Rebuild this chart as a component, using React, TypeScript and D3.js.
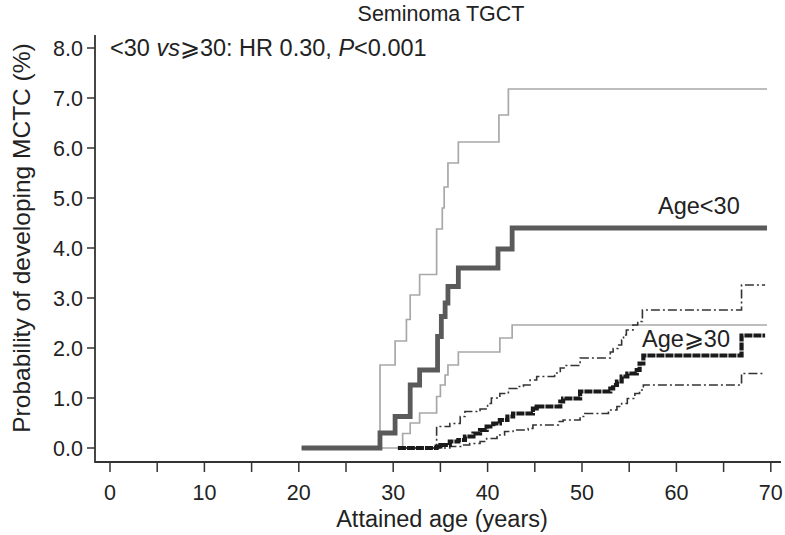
import React from "react";
import * as d3 from "d3";

// ---------- data ----------
const xTicks = [0, 10, 20, 30, 40, 50, 60, 70];
const xMinorTicks = [5, 15, 25, 35, 45, 55, 65];
const yTicks = [0, 1, 2, 3, 4, 5, 6, 7, 8];

// Age < 30: estimate and 95% CI
const lt30Ages = [20.3, 28.6, 30.2, 31.8, 32.8, 34.7, 35.1, 35.5, 35.8, 36.9, 41.1, 42.6, 69.6];
const lt30Est = [0, 0.3, 0.63, 1.26, 1.56, 2.23, 2.63, 2.9, 3.23, 3.6, 3.98, 4.4, 4.4];

const lt30UpAges = [20.3, 28.6, 30.2, 31.4, 31.8, 32.8, 34.6, 35.2, 35.4, 35.8, 36.9, 41.2, 42.2, 69.6];
const lt30Up = [0, 1.66, 2.14, 2.57, 3.06, 3.47, 4.38, 4.8, 5.22, 5.7, 6.12, 6.66, 7.18, 7.18];

const lt30LoAges = [20.3, 31.0, 31.8, 32.8, 34.6, 35.0, 35.5, 35.8, 36.9, 41.3, 42.6, 69.6];
const lt30Lo = [0, 0.29, 0.5, 0.7, 1.03, 1.26, 1.46, 1.66, 1.92, 2.2, 2.46, 2.46];

// Age >= 30: estimate and 95% CI
const ge30Ages = [30.5, 34.6, 35.0, 36.0, 36.9, 37.6, 38.5, 39.2, 39.9, 40.6, 41.3, 42.1, 42.7, 44.8, 45.2, 47.7, 48.0, 49.8, 53.0, 53.3, 53.7, 54.2, 54.8, 55.8, 56.1, 56.5, 66.9, 69.4];
const ge30Est = [0, 0.03, 0.06, 0.13, 0.16, 0.23, 0.29, 0.36, 0.43, 0.49, 0.56, 0.63, 0.69, 0.79, 0.83, 0.93, 0.99, 1.13, 1.19, 1.26, 1.33, 1.43, 1.49, 1.56, 1.69, 1.85, 2.25, 2.25];

const ge30UpAges = [30.5, 34.6, 36.0, 37.1, 37.6, 39.2, 40.0, 40.4, 41.3, 42.2, 43.1, 43.8, 44.5, 45.2, 47.1, 47.7, 48.2, 49.8, 53.0, 53.3, 53.8, 54.2, 54.4, 54.7, 55.4, 55.9, 56.4, 66.9, 69.4];
const ge30Up = [0, 0.43, 0.49, 0.63, 0.73, 0.78, 0.89, 1.0, 1.09, 1.19, 1.23, 1.26, 1.36, 1.43, 1.5, 1.6, 1.65, 1.8, 1.92, 1.99, 2.06, 2.16, 2.26, 2.36, 2.46, 2.53, 2.76, 3.26, 3.26];

const ge30LoAges = [30.5, 36.0, 37.3, 38.1, 39.2, 39.9, 41.0, 41.8, 42.7, 44.3, 44.8, 47.5, 48.0, 49.8, 50.3, 52.8, 53.7, 54.2, 54.8, 55.6, 56.1, 56.5, 66.9, 69.4];
const ge30Lo = [0, 0.03, 0.06, 0.09, 0.13, 0.19, 0.26, 0.33, 0.36, 0.39, 0.46, 0.53, 0.56, 0.63, 0.69, 0.76, 0.83, 0.89, 0.99, 1.09, 1.16, 1.26, 1.49, 1.49];

const FONT = "'Liberation Sans', Arial, Helvetica, sans-serif";

export default function App() {
  const x = d3.scaleLinear().domain([0, 70]).range([110, 770.8]);
  const y = d3.scaleLinear().domain([0, 8]).range([448, 48]);
  const line = d3
    .line<[number, number]>()
    .x((d) => x(d[0]))
    .y((d) => y(d[1]))
    .curve(d3.curveStepAfter);
  const mk = (a: number[], v: number[]) => line(a.map((t, i) => [t, v[i]] as [number, number])) || "";

  const axisY = 462;
  const axisX = 95;

  return (
    <svg
      width={785}
      height={535}
      style={{ position: "absolute", left: 0, top: 0, background: "#fff" }}
      fontFamily={FONT}
    >
      <rect width={785} height={535} fill="#fff" />
      {/* title */}
      <text x={441} y={21} textAnchor="middle" fontSize={21.5} fill="#222">
        Seminoma TGCT
      </text>
      {/* annotation */}
      <text x={110} y={56} fontSize={23.5} fill="#222">
        {"<30 "}
        <tspan fontStyle="italic">vs</tspan>
        {"⩾30: HR 0.30, "}
        <tspan fontStyle="italic">P</tspan>
        {"<0.001"}
      </text>

      {/* axes */}
      <path d={`M${axisX},35V${axisY}H781`} fill="none" stroke="#333" strokeWidth={1.8} />
      {yTicks.map((t) => (
        <g key={"y" + t}>
          <line x1={axisX - 8} x2={axisX} y1={y(t)} y2={y(t)} stroke="#333" strokeWidth={1.5} />
          <text x={83} y={y(t)} dy="0.36em" textAnchor="end" fontSize={21.5} fill="#222">
            {t.toFixed(1)}
          </text>
        </g>
      ))}
      {xTicks.concat(xMinorTicks).map((t) => (
        <line key={"xt" + t} x1={x(t)} x2={x(t)} y1={axisY} y2={axisY + 10} stroke="#333" strokeWidth={1.5} />
      ))}
      {xTicks.map((t) => (
        <text key={"xl" + t} x={x(t)} y={500} textAnchor="middle" fontSize={21.5} fill="#222">
          {t}
        </text>
      ))}
      <text x={442} y={527} textAnchor="middle" fontSize={23.5} fill="#222">
        Attained age (years)
      </text>
      <text
        transform="translate(21,238) rotate(-90)"
        textAnchor="middle"
        dy="0.35em"
        fontSize={24.5}
        fill="#222"
      >
        Probability of developing MCTC (%)
      </text>

      {/* curves */}
      <path d={mk(lt30UpAges, lt30Up)} fill="none" stroke="#a8a8a8" strokeWidth={1.7} />
      <path d={mk(lt30LoAges, lt30Lo)} fill="none" stroke="#a8a8a8" strokeWidth={1.7} />
      <path d={mk(ge30UpAges, ge30Up)} fill="none" stroke="#333" strokeWidth={1.6} strokeDasharray="9,3,2,3" />
      <path d={mk(ge30LoAges, ge30Lo)} fill="none" stroke="#333" strokeWidth={1.6} strokeDasharray="9,3,2,3" />
      <path d={mk(lt30Ages, lt30Est)} fill="none" stroke="#5a5a5a" strokeWidth={4.8} />
      <path d={mk(ge30Ages, ge30Est)} fill="none" stroke="#1a1a1a" strokeWidth={4.2} strokeDasharray="8,1" />

      {/* labels */}
      <text x={658} y={214} fontSize={23.5} fill="#222">
        Age{"<"}30
      </text>
      <text x={642} y={347} fontSize={23.5} fill="#222">
        Age{"⩾"}30
      </text>
    </svg>
  );
}
